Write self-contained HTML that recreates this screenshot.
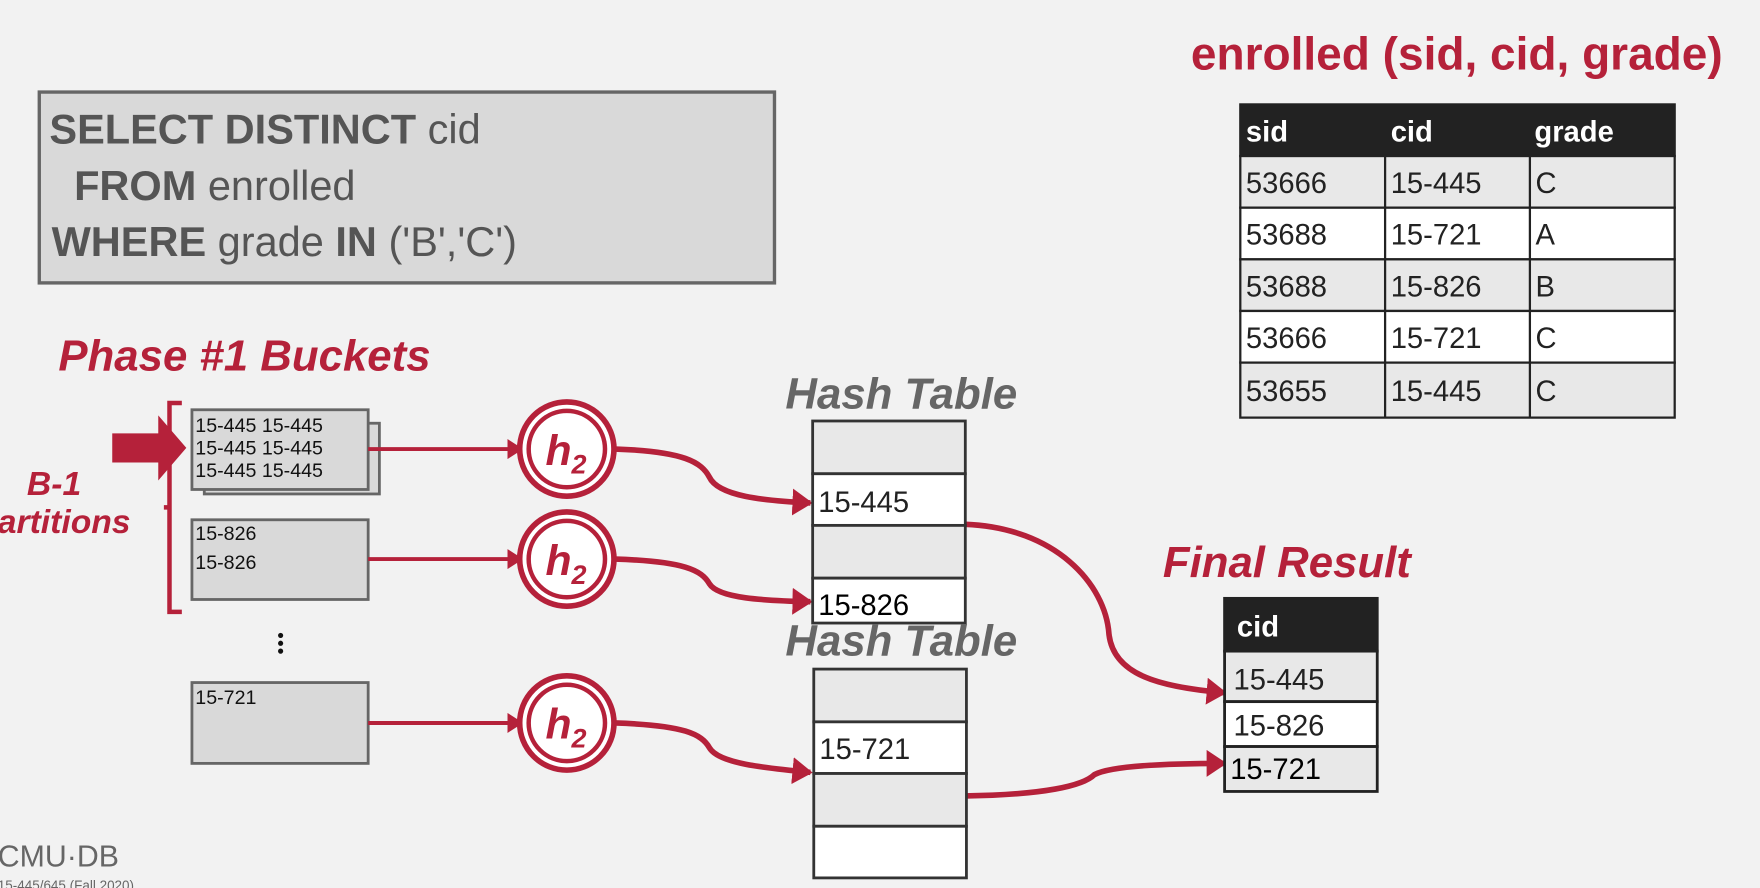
<!DOCTYPE html>
<html><head><meta charset="utf-8"><style>
html,body{margin:0;padding:0;background:#f2f2f2;}
svg{display:block;font-family:"Liberation Sans",sans-serif;}
</style></head><body>
<svg width="1760" height="888" viewBox="0 0 1568 791" preserveAspectRatio="none" xmlns="http://www.w3.org/2000/svg">
<defs>
<marker id="ah" markerWidth="18" markerHeight="24" refX="16" refY="12" orient="auto" markerUnits="userSpaceOnUse"><path d="M0,0 L18,12 L0,24 Z" fill="#b5213a"/></marker>
<marker id="as" markerWidth="14" markerHeight="18" refX="12" refY="9" orient="auto" markerUnits="userSpaceOnUse"><path d="M0,0 L14,9 L0,18 Z" fill="#b5213a"/></marker>
</defs>
<rect width="1568" height="791" fill="#f2f2f2"/>
<rect x="35" y="82" width="655" height="170" fill="#d9d9d9" stroke="#666" stroke-width="3"/>
<g fill="#555" font-size="37">
<text x="44" y="128"><tspan font-weight="bold">SELECT DISTINCT</tspan> cid</text>
<text x="66" y="178"><tspan font-weight="bold">FROM</tspan> enrolled</text>
<text x="46" y="228"><tspan font-weight="bold">WHERE</tspan> grade <tspan font-weight="bold">IN</tspan> ('B','C')</text>
</g>
<text x="1061" y="62" fill="#b5213a" font-size="41" font-weight="bold">enrolled (sid, cid, grade)</text>
<g stroke="#222" stroke-width="2">
<rect x="1105" y="93" width="387" height="46" fill="#222"/>
<rect x="1105" y="139" width="387" height="46" fill="#e8e8e8"/>
<rect x="1105" y="185" width="387" height="46" fill="#fff"/>
<rect x="1105" y="231" width="387" height="46" fill="#e8e8e8"/>
<rect x="1105" y="277" width="387" height="46" fill="#fff"/>
<rect x="1105" y="323" width="387" height="49" fill="#e8e8e8"/>
<line x1="1234" y1="139" x2="1234" y2="372"/>
<line x1="1363" y1="139" x2="1363" y2="372"/>
</g>
<g fill="#fff" font-size="26" font-weight="bold"><text x="1110" y="126">sid</text><text x="1239" y="126">cid</text><text x="1367" y="126">grade</text></g>
<g fill="#222" font-size="26">
<text x="1110" y="172">53666</text><text x="1239" y="172">15-445</text><text x="1368" y="172">C</text>
<text x="1110" y="218">53688</text><text x="1239" y="218">15-721</text><text x="1368" y="218">A</text>
<text x="1110" y="264">53688</text><text x="1239" y="264">15-826</text><text x="1368" y="264">B</text>
<text x="1110" y="310">53666</text><text x="1239" y="310">15-721</text><text x="1368" y="310">C</text>
<text x="1110" y="357">53655</text><text x="1239" y="357">15-445</text><text x="1368" y="357">C</text>
</g>
<text x="52" y="330" fill="#b5213a" font-size="39" font-weight="bold" font-style="italic">Phase #1 Buckets</text>
<g fill="#b5213a" font-size="30" font-weight="bold" font-style="italic"><text x="24" y="441">B-1</text><text x="-2" y="475">artitions</text></g>
<path d="M162,359 H151 V545 H162 M151,452 H146" fill="none" stroke="#b5213a" stroke-width="4"/>
<path d="M100,386 H141 V370 L166,399 L141,428 V412 H100 Z" fill="#b5213a"/>
<g stroke="#666" stroke-width="2.5" fill="#d9d9d9">
<rect x="182" y="377" width="156" height="63"/>
<rect x="171" y="365" width="157" height="71"/>
<rect x="171" y="463" width="157" height="71"/>
<rect x="171" y="608" width="157" height="72"/>
</g>
<g fill="#111" font-size="17.5">
<text x="174" y="385">15-445 15-445</text><text x="174" y="405">15-445 15-445</text><text x="174" y="425">15-445 15-445</text>
<text x="174" y="481">15-826</text><text x="174" y="507">15-826</text>
<text x="174" y="627">15-721</text>
</g>
<g fill="#111"><circle cx="250" cy="566" r="2.3"/><circle cx="250" cy="573" r="2.3"/><circle cx="250" cy="580" r="2.3"/></g>
<g stroke="#b5213a" stroke-width="3.5" fill="none" marker-end="url(#as)">
<line x1="328" y1="400" x2="464" y2="400"/>
<line x1="328" y1="498" x2="464" y2="498"/>
<line x1="328" y1="644" x2="464" y2="644"/>
</g>
<g>
<g transform="translate(505,400)"><circle r="42" fill="#fff" stroke="#b5213a" stroke-width="5"/><circle r="34" fill="#fff" stroke="#b5213a" stroke-width="4"/></g>
<g transform="translate(505,498)"><circle r="42" fill="#fff" stroke="#b5213a" stroke-width="5"/><circle r="34" fill="#fff" stroke="#b5213a" stroke-width="4"/></g>
<g transform="translate(505,644)"><circle r="42" fill="#fff" stroke="#b5213a" stroke-width="5"/><circle r="34" fill="#fff" stroke="#b5213a" stroke-width="4"/></g>
</g>
<g fill="#b5213a" font-weight="bold" font-style="italic">
<text x="486" y="414" font-size="38">h<tspan font-size="24" dy="8">2</tspan></text>
<text x="486" y="512" font-size="38">h<tspan font-size="24" dy="8">2</tspan></text>
<text x="486" y="658" font-size="38">h<tspan font-size="24" dy="8">2</tspan></text>
</g>
<g stroke="#b5213a" stroke-width="5" fill="none" marker-end="url(#ah)">
<path d="M548,400 C610,402 625,412 632,425 C640,442 680,446 722,448"/>
<path d="M548,498 C610,500 625,508 632,520 C640,533 680,535 722,536"/>
<path d="M548,644 C610,646 625,654 632,666 C640,680 680,684 722,688"/>
<path d="M860,467 C940,470 985,520 988,565 C992,600 1030,612 1091,617"/>
<path d="M860,709 C930,708 965,700 975,690 C990,682 1040,680 1091,680"/>
</g>
<g stroke="#333" stroke-width="2.5">
<rect x="724" y="375" width="136" height="47" fill="#e8e8e8"/>
<rect x="724" y="422" width="136" height="46" fill="#fff"/>
<rect x="724" y="468" width="136" height="47" fill="#e8e8e8"/>
<rect x="724" y="515" width="136" height="40" fill="#fff"/>
</g>
<g fill="#222" font-size="26"><text x="729" y="456">15-445</text></g>
<text x="729" y="548" fill="#000" font-size="26">15-826</text>
<g fill="#666" font-size="39" font-weight="bold" font-style="italic" text-anchor="middle">
<text x="803" y="364">Hash Table</text>
<text x="803" y="584">Hash Table</text>
</g>
<g stroke="#333" stroke-width="2.5">
<rect x="725" y="596" width="136" height="47" fill="#e8e8e8"/>
<rect x="725" y="643" width="136" height="46" fill="#fff"/>
<rect x="725" y="689" width="136" height="47" fill="#e8e8e8"/>
<rect x="725" y="736" width="136" height="46" fill="#fff"/>
</g>
<text x="730" y="676" fill="#222" font-size="26">15-721</text>
<text x="1036" y="514" fill="#b5213a" font-size="39" font-weight="bold" font-style="italic">Final Result</text>
<g stroke="#222" stroke-width="2.5">
<rect x="1091" y="533" width="136" height="47" fill="#222"/>
<rect x="1091" y="580" width="136" height="45" fill="#e8e8e8"/>
<rect x="1091" y="625" width="136" height="40" fill="#fff"/>
<rect x="1091" y="665" width="136" height="40" fill="#e8e8e8"/>
</g>
<text x="1102" y="567" fill="#fff" font-size="26" font-weight="bold">cid</text>
<g font-size="26"><text x="1099" y="614" fill="#222">15-445</text><text x="1099" y="655" fill="#222">15-826</text><text x="1096" y="694" fill="#000">15-721</text></g>
<text x="-2" y="772" fill="#666" font-size="27">CMU·DB</text>
<text x="-2" y="793" fill="#666" font-size="12">15-445/645 (Fall 2020)</text>
</svg>
</body></html>
